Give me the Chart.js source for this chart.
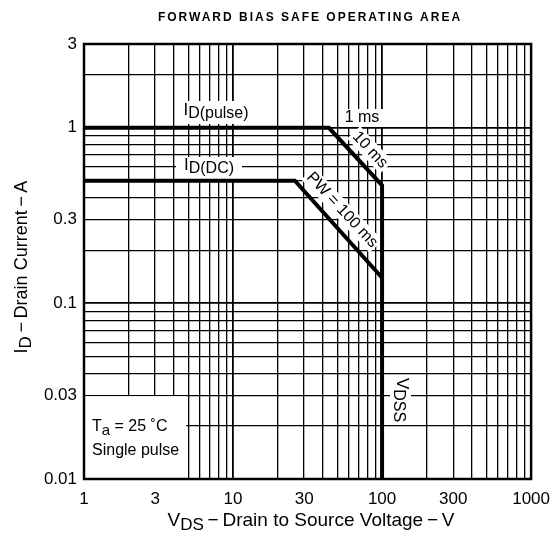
<!DOCTYPE html>
<html>
<head>
<meta charset="utf-8">
<script src="https://cdn.jsdelivr.net/npm/chart.js@4.4.0/dist/chart.umd.min.js"></script>
<style>
  html, body { margin: 0; padding: 0; background: #fff; }
  #wrap { width: 560px; height: 541px; }
</style>
</head>
<body>
<div id="wrap"><canvas id="soaChart" width="560" height="541"></canvas></div>
<script>
// Safe operating area boundaries (V, A)
const pulseV = [1, 44, 100, 100];
const pulseI = [1, 1, 0.47, 0.01];
const dcV = [1, 26, 100];
const dcI = [0.5, 0.5, 0.14];

// labelled ticks
const xTickLabels = [1, 3, 10, 30, 100, 300, 1000];
const yTickLabels = [0.01, 0.03, 0.1, 0.3, 1, 3];

const FONT = '"Liberation Sans", Arial, sans-serif';
const DASH = '\u2009\u2212\u2009';

// every 1..9 line of each decade for the log grid
function logGrid(min, max) {
    const out = [];
    for (let d = 0.001; d <= max; d *= 10) {
        for (let m = 1; m <= 9; m++) {
            const v = parseFloat((m * d).toPrecision(3));
            if (v >= min - 1e-9 && v <= max + 1e-9) out.push(v);
        }
    }
    return out;
}

function toPts(xs, ys) {
    return xs.map((x, i) => ({ x: x, y: ys[i] }));
}

// text with subscript parts: parts = [[text, isSub], ...], centred on x
function richText(ctx, parts, x, y, size, subSize) {
    let w = 0;
    parts.forEach(p => {
        ctx.font = (p[1] ? subSize : size) + 'px ' + FONT;
        w += ctx.measureText(p[0]).width;
    });
    let cx = x - w / 2;
    ctx.textAlign = 'left';
    parts.forEach(p => {
        ctx.font = (p[1] ? subSize : size) + 'px ' + FONT;
        ctx.fillText(p[0], cx, p[1] ? y + 4 : y);
        cx += ctx.measureText(p[0]).width;
    });
    return w;
}

function whiteBox(ctx, x, y, w, h) {
    ctx.fillStyle = '#fff';
    ctx.fillRect(x, y, w, h);
    ctx.fillStyle = '#000';
}

function rotLabel(ctx, text, px, py, deg, bw, size) {
    ctx.save();
    ctx.translate(px, py);
    ctx.rotate(deg * Math.PI / 180);
    whiteBox(ctx, -bw / 2, -9, bw, 18);
    ctx.font = size + 'px ' + FONT;
    ctx.textAlign = 'center';
    ctx.fillText(text, 0, 0);
    ctx.restore();
}

const decor = {
    id: 'decor',
    beforeDatasetsDraw(chart) {
        const ctx = chart.ctx;
        const a = chart.chartArea;
        ctx.save();
        ctx.beginPath();
        ctx.rect(a.left, a.top, a.right - a.left, a.bottom - a.top);
        ctx.clip();
        ctx.fillStyle = '#000';
        ctx.textBaseline = 'middle';

        // I_D(pulse)
        whiteBox(ctx, 178, 101, 76, 23);
        richText(ctx, [['I', false], ['D(pulse)', true]], 216, 110, 17, 16);

        // I_D(DC)
        whiteBox(ctx, 176, 157, 66, 22);
        richText(ctx, [['I', false], ['D(DC)', true]], 209, 165, 17, 16);

        // 1 ms
        whiteBox(ctx, 341, 109, 43, 18);
        ctx.font = '16px ' + FONT;
        ctx.textAlign = 'center';
        ctx.fillText('1 ms', 362, 118);

        rotLabel(ctx, '10 ms', 370, 150, 47, 48, 16);
        rotLabel(ctx, 'PW = 100 ms', 342, 210, 47, 100, 16);

        // VDSS
        ctx.save();
        ctx.translate(400, 400);
        ctx.rotate(Math.PI / 2);
        whiteBox(ctx, -23, -11, 46, 21);
        richText(ctx, [['V', false], ['DSS', true]], 0, -2, 17, 16);
        ctx.restore();

        // conditions box
        const ys = chart.scales.y, xs = chart.scales.x;
        const bt = ys.getPixelForValue(0.03) + 1;
        whiteBox(ctx, a.left, bt, xs.getPixelForValue(5) - 2 - a.left, a.bottom - bt);
        ctx.font = '16px ' + FONT;
        ctx.textAlign = 'left';
        const tx = 92, ty = 427;
        ctx.fillText('T', tx, ty);
        let w = ctx.measureText('T').width;
        ctx.font = '15px ' + FONT;
        ctx.fillText('a', tx + w, ty + 4);
        w += ctx.measureText('a').width;
        ctx.font = '16px ' + FONT;
        ctx.fillText(' = 25 \u02daC', tx + w, ty);
        ctx.fillText('Single pulse', tx, 451);
        ctx.restore();
    },
    afterDraw(chart) {
        const ctx = chart.ctx;
        const a = chart.chartArea;
        ctx.save();
        ctx.fillStyle = '#000';
        ctx.strokeStyle = '#000';
        ctx.lineWidth = 2.5;
        ctx.strokeRect(a.left, a.top, a.right - a.left, a.bottom - a.top);

        // title
        ctx.textBaseline = 'middle';
        ctx.font = 'bold 12px ' + FONT;
        ctx.letterSpacing = '2px';
        ctx.textAlign = 'center';
        ctx.fillText('FORWARD BIAS SAFE OPERATING AREA', 310, 18);
        ctx.letterSpacing = '0px';

        // axis titles
        richText(ctx, [['V', false], ['DS', true], [DASH + 'Drain to Source Voltage' + DASH + 'V', false]], 311, 521, 19, 17);
        ctx.save();
        ctx.translate(22, 267);
        ctx.rotate(-Math.PI / 2);
        richText(ctx, [['I', false], ['D', true], [DASH + 'Drain Current' + DASH + 'A', false]], 0, 0, 18, 17);
        ctx.restore();
        ctx.restore();
    }
};

const ctx = document.getElementById('soaChart').getContext('2d');

new Chart(ctx, {
    type: 'line',
    data: {
        datasets: [
            { label: 'ID(pulse)', data: toPts(pulseV, pulseI) },
            { label: 'ID(DC)', data: toPts(dcV, dcI) }
        ]
    },
    options: {
        responsive: false,
        animation: false,
        layout: { padding: { top: 44, right: 24, left: 0, bottom: 0 } },
        elements: {
            line: { borderColor: '#000', borderWidth: 4, tension: 0, borderJoinStyle: 'miter' },
            point: { radius: 0 }
        },
        plugins: {
            legend: { display: false },
            tooltip: { enabled: false }
        },
        scales: {
            x: {
                type: 'logarithmic',
                min: 1,
                max: 1000,
                afterBuildTicks: s => { s.ticks = logGrid(1, 1000).map(v => ({ value: v })); },
                afterFit: s => { s.height = 62; },
                grid: {
                    color: '#000',
                    lineWidth: c => [1, 10, 100, 1000].includes(c.tick.value) ? 1.8 : 1.3,
                    drawTicks: false
                },
                border: { display: false },
                ticks: {
                    autoSkip: false,
                    maxRotation: 0,
                    padding: 10,
                    color: '#000',
                    font: { size: 17, family: FONT },
                    callback: v => xTickLabels.includes(v) ? String(v) : ''
                }
            },
            y: {
                type: 'logarithmic',
                min: 0.01,
                max: 3,
                afterBuildTicks: s => { s.ticks = logGrid(0.01, 3).map(v => ({ value: v })); },
                afterFit: s => { s.width = 84; },
                grid: {
                    color: '#000',
                    lineWidth: c => [0.01, 0.1, 1].includes(c.tick.value) ? 1.8 : 1.3,
                    drawTicks: false
                },
                border: { display: false },
                ticks: {
                    autoSkip: false,
                    padding: 7,
                    color: '#000',
                    font: { size: 17, family: FONT },
                    callback: v => yTickLabels.includes(v) ? String(v) : ''
                }
            }
        }
    },
    plugins: [decor]
});
</script>
</body>
</html>
